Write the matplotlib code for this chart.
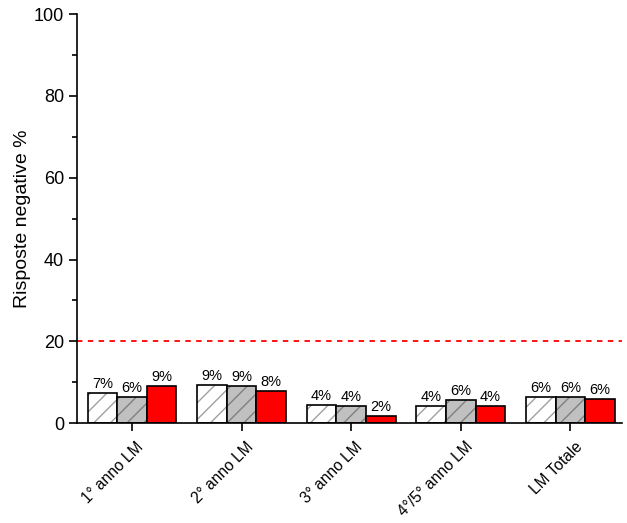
import matplotlib.pyplot as plt
import matplotlib.transforms as mtransforms
import numpy as np

plt.rcParams['font.family'] = ['Liberation Sans', 'DejaVu Sans']

# Chart data
categories = ['1° anno LM', '2° anno LM', '3° anno LM', '4°/5° anno LM', 'LM Totale']
series_a = [7.4, 9.3, 4.4, 4.2, 6.3]
series_b = [6.3, 9.1, 4.2, 5.6, 6.3]
series_c = [9.1, 7.8, 1.7, 4.2, 5.9]
threshold = 20

fig = plt.figure(figsize=(6.27, 5.23), dpi=100)
ax = fig.add_axes([0.123, 0.191, 0.869, 0.782])

x = np.arange(len(categories))
w = 0.27

# hatched fills (gray hatch lines), then black outline on top
styles = [
    (series_a, -w, 'white', '#a0a0a0', '//'),
    (series_b, 0, '#c0c0c0', '#808080', '//'),
    (series_c, w, '#ff0000', '#ff0000', None),
]
for vals, off, face, hcol, hatch in styles:
    ax.bar(x + off, vals, w, color=face, edgecolor=hcol, linewidth=0, hatch=hatch)
    ax.bar(x + off, vals, w, fill=False, edgecolor='black', linewidth=1.2)
    for xi, v in zip(x + off, vals):
        ax.text(xi, v + 0.5, f'{round(v)}%', ha='center', va='bottom', fontsize=10.5)

ax.axhline(threshold, color='#ff0000', linestyle=(0, (3, 3)), linewidth=1.3)

ax.set_xlim(-0.5, 4.47)
ax.set_ylim(0, 100)
ax.set_yticks([0, 20, 40, 60, 80, 100])
ax.set_yticks([10, 30, 50, 70, 90], minor=True)
ax.set_xticks(x)
ax.set_xticklabels([])

# rotated category labels, shifted a bit right/down of the tick
shift = mtransforms.ScaledTranslation(4 / 100, -16 / 100, fig.dpi_scale_trans)
for xi, name in zip(x, categories):
    ax.text(xi, 0, name, rotation=45, ha='right', va='top', rotation_mode='anchor',
            fontsize=11.2, transform=ax.get_xaxis_transform() + shift, clip_on=False)

ax.tick_params(axis='y', labelsize=13)
ax.tick_params(direction='out', length=6, width=1.2)
ax.tick_params(which='minor', direction='out', length=3.5, width=1.2)
ax.set_ylabel('Risposte negative %', fontsize=14, labelpad=2)

for s in ['top', 'right']:
    ax.spines[s].set_visible(False)
for s in ['left', 'bottom']:
    ax.spines[s].set_linewidth(1.2)

fig.savefig('out.png', dpi=100)
